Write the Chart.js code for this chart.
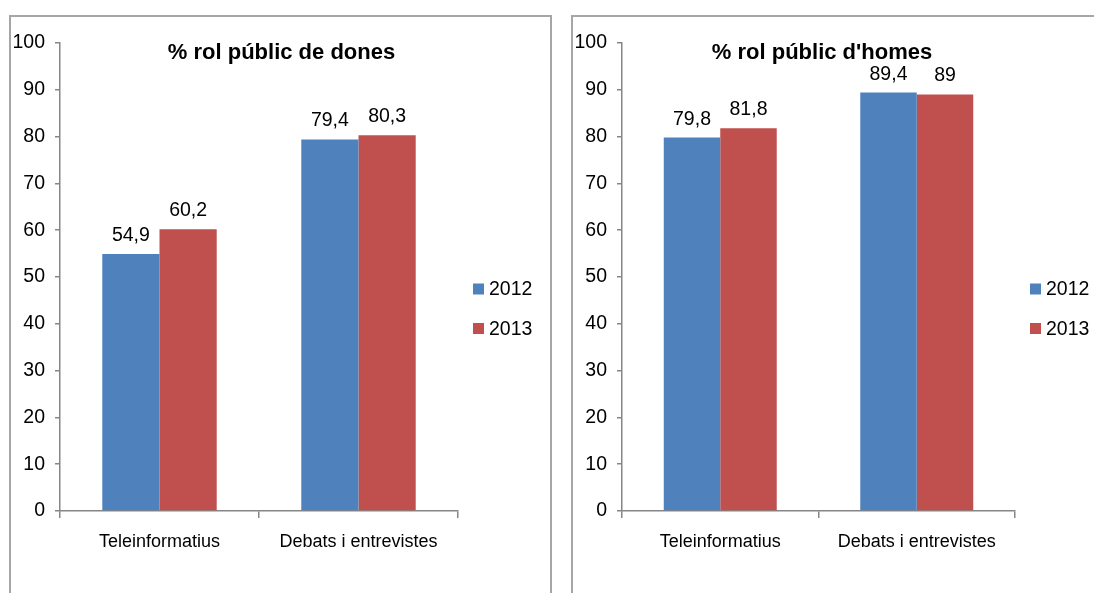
<!DOCTYPE html>
<html>
<head>
<meta charset="utf-8">
<script src="https://cdn.jsdelivr.net/npm/chart.js@4/dist/chart.umd.min.js"></script>
<style>
  html, body { margin: 0; padding: 0; background: #fff; width: 1094px; height: 593px; overflow: hidden; }
  .frame { position: absolute; border: 2px solid #a6a6a6; box-sizing: border-box; height: 700px; overflow: hidden; }
  #f1 { left: 9px; top: 15px; width: 543px; }
  #f2 { left: 571px; top: 15px; width: 700px; }
  canvas { position: absolute; }
  #c1 { left: 0px; top: 0px; }
  #c2 { left: 1px; top: 0px; }
</style>
</head>
<body>
<div class="frame" id="f1"><canvas id="c1" width="541" height="576"></canvas></div>
<div class="frame" id="f2"><canvas id="c2" width="520" height="576"></canvas></div>
<script>
// ---- data ----
const categories = ['Teleinformatius', 'Debats i entrevistes'];
const seriesNames = ['2012', '2013'];
const dones2012 = [54.9, 79.4];
const dones2013 = [60.2, 80.3];
const homes2012 = [79.8, 89.4];
const homes2013 = [81.8, 89];
const titles = ['% rol públic de dones', "% rol públic d'homes"];
const yMin = 0, yMax = 100, yStep = 10;

const colors = ['#4f81bd', '#c0504d'];
const axisColor = '#868686';
const FONT = "'Liberation Sans', Arial, sans-serif";

function fmt(v) { return String(v).replace('.', ','); }

const labelsPlugin = {
  id: 'valueLabels',
  afterDatasetsDraw(chart) {
    const ctx = chart.ctx;
    ctx.save();
    ctx.font = '19.5px ' + FONT;
    ctx.fillStyle = '#000';
    ctx.textAlign = 'center';
    ctx.textBaseline = 'alphabetic';
    chart.data.datasets.forEach((ds, i) => {
      chart.getDatasetMeta(i).data.forEach((bar, j) => {
        ctx.fillText(fmt(ds.data[j]), bar.x, bar.y - 13);
      });
    });
    ctx.restore();
  }
};

const titlePlugin = {
  id: 'innerTitle',
  afterDraw(chart, args, opts) {
    const ctx = chart.ctx;
    ctx.save();
    ctx.font = 'bold 22px ' + FONT;
    ctx.fillStyle = '#000';
    ctx.textAlign = 'center';
    ctx.textBaseline = 'alphabetic';
    ctx.fillText(opts.text, opts.x, opts.y);
    ctx.restore();
  }
};

const legendPlugin = {
  id: 'sideLegend',
  afterDraw(chart, args, opts) {
    const ctx = chart.ctx;
    ctx.save();
    ctx.font = '19.5px ' + FONT;
    ctx.textAlign = 'left';
    ctx.textBaseline = 'middle';
    chart.data.datasets.forEach((ds, i) => {
      const y = opts.y + i * opts.gap;
      ctx.fillStyle = ds.backgroundColor;
      ctx.fillRect(opts.x, y - 5.5, 11, 11);
      ctx.fillStyle = '#000';
      ctx.fillText(ds.label, opts.x + 16, y + 1);
    });
    ctx.restore();
  }
};

function makeChart(id, title, a, b, cfg) {
  return new Chart(document.getElementById(id), {
    type: 'bar',
    data: {
      labels: categories,
      datasets: [
        { label: seriesNames[0], data: a, backgroundColor: colors[0] },
        { label: seriesNames[1], data: b, backgroundColor: colors[1] }
      ]
    },
    options: {
      responsive: false,
      animation: false,
      layout: { padding: cfg.padding },
      datasets: { bar: { categoryPercentage: 0.575, barPercentage: 1.0 } },
      scales: {
        x: {
          afterFit: s => { s.height = 40; },
          grid: { offset: true, drawOnChartArea: false, drawTicks: true, tickLength: 7, color: axisColor, lineWidth: 1.5 },
          border: { display: true, color: axisColor, width: 1.5 },
          ticks: { font: { family: FONT, size: 18 }, color: '#000', padding: 13, maxRotation: 0 }
        },
        y: {
          min: yMin, max: yMax,
          afterFit: s => { s.width = cfg.yWidth; },
          grid: { drawOnChartArea: false, drawTicks: true, tickLength: 5, color: axisColor, lineWidth: 1.5 },
          border: { display: true, color: axisColor, width: 1.5 },
          ticks: { stepSize: yStep, font: { family: FONT, size: 19.5 }, color: '#000', padding: 10 }
        }
      },
      plugins: {
        legend: { display: false },
        tooltip: { enabled: false },
        innerTitle: { text: title, x: cfg.titleX, y: 42 },
        sideLegend: { x: cfg.legendX, y: 272, gap: 39.5 }
      }
    },
    plugins: [labelsPlugin, titlePlugin, legendPlugin]
  });
}

makeChart('c1', titles[0], dones2012, dones2013, {
  padding: { left: 0, top: 26, right: 94, bottom: 42 },
  yWidth: 49, titleX: 270.5, legendX: 462
});
makeChart('c2', titles[1], homes2012, homes2013, {
  padding: { left: 0, top: 26, right: 79, bottom: 42 },
  yWidth: 48, titleX: 248, legendX: 456
});
</script>
</body>
</html>
